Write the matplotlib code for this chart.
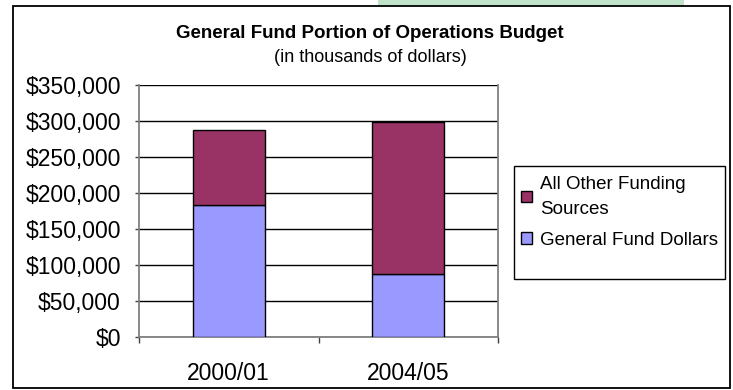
import matplotlib
matplotlib.use("Agg")
import matplotlib.pyplot as plt
from matplotlib.patches import Rectangle
from matplotlib.ticker import FuncFormatter, FixedLocator

plt.rcParams['font.family'] = ['Liberation Sans', 'DejaVu Sans']

years = ["2000/01", "2004/05"]
general_fund = [183000, 87000]
other_sources = [105000, 211000]

W, H = 733, 390
fig = plt.figure(figsize=(W / 100, H / 100), dpi=100)


def px_rect(x0, y0, x1, y1, **kw):
    # rectangle given in pixel coords measured from the top-left corner
    r = Rectangle((x0 / W, 1 - y1 / H), (x1 - x0) / W, (y1 - y0) / H,
                  transform=fig.transFigure, **kw)
    fig.patches.append(r)
    return r


# light green strip peeking above the chart frame
px_rect(378, 0, 684, 6, facecolor="#bfe2c9", edgecolor="none", zorder=0)
# chart frame
px_rect(13, 6, 730, 388, facecolor="white", edgecolor="black",
        linewidth=1.3, zorder=1)
# legend box
px_rect(514, 166, 725, 279, facecolor="white", edgecolor="black",
        linewidth=1, zorder=3)

ax = fig.add_axes([139 / W, (H - 337) / H, (498 - 139) / W, (337 - 85) / H])
ax.set_zorder(2)
ax.patch.set_alpha(0)

x = range(len(years))
ax.bar(x, general_fund, width=0.4, color="#9999ff", edgecolor="black",
       linewidth=1, label="General Fund Dollars", zorder=3)
ax.bar(x, other_sources, width=0.4, bottom=general_fund, color="#993366",
       edgecolor="black", linewidth=1, label="All Other Funding\nSources", zorder=3)

ax.set_xlim(-0.5, 1.5)
ax.set_ylim(0, 350000)
ax.set_yticks(range(0, 350001, 50000))
ax.yaxis.set_major_formatter(FuncFormatter(lambda v, p: "${:,.0f}".format(v)))
ax.grid(axis="y", color="black", linewidth=1, zorder=1)
ax.set_axisbelow(True)

ax.set_xticks(list(x))
ax.set_xticklabels(years)
ax.xaxis.set_minor_locator(FixedLocator([-0.5, 0.5, 1.5]))
ax.tick_params(axis="x", which="major", length=0, pad=18, labelsize=16.5)
ax.tick_params(axis="x", which="minor", length=4.5, width=1, color="#404040")
ax.tick_params(axis="y", length=3, width=1, color="#404040", pad=10, labelsize=16.5)

for s in ["left", "bottom", "right"]:
    ax.spines[s].set_color("#808080")
    ax.spines[s].set_linewidth(1.3)
ax.spines["top"].set_visible(False)

fig.text(370 / W, 1 - 33 / H, "General Fund Portion of Operations Budget",
         ha="center", va="center", fontsize=13.5, fontweight="bold", zorder=3)
fig.text(370 / W, 1 - 58 / H, "(in thousands of dollars)",
         ha="center", va="center", fontsize=13, zorder=3)

handles, labels = ax.get_legend_handles_labels()
leg = fig.legend(handles[::-1], labels[::-1], loc="upper left",
                 bbox_to_anchor=(517 / W, 1 - 172 / H), fontsize=13.5,
                 frameon=False, handlelength=0.6, handleheight=0.6,
                 handletextpad=0.45, borderpad=0.2, labelspacing=0.75,
                 borderaxespad=0)
for t in leg.get_texts():
    t.set_linespacing(1.6)
leg.set_zorder(4)

fig.savefig("out.png", dpi=100)
